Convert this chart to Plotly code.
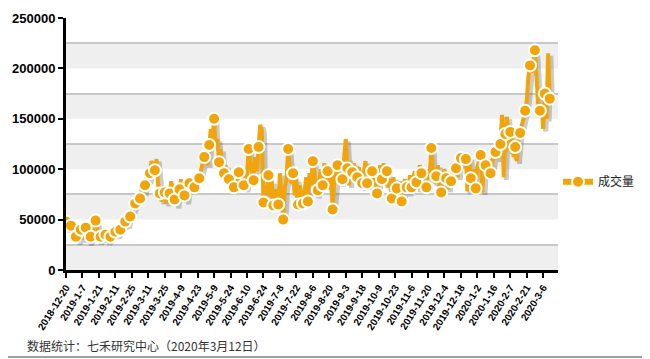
import plotly.graph_objects as go

# Tick labels (every 10 trading days)
tick_labels = ["2018-12-20", "2019-1-7", "2019-1-21", "2019-2-11", "2019-2-25", "2019-3-11",
               "2019-3-25", "2019-4-9", "2019-4-23", "2019-5-9", "2019-5-24", "2019-6-10",
               "2019-6-24", "2019-7-8", "2019-7-22", "2019-8-6", "2019-8-20", "2019-9-3",
               "2019-9-18", "2019-10-9", "2019-10-23", "2019-11-6", "2019-11-20", "2019-12-4",
               "2019-12-18", "2020-1-2", "2020-1-16", "2020-2-7", "2020-2-21", "2020-3-6"]

# Daily volume, in thousands (one value per trading day)
volume_k = [
    48, 40, 46, 44, 36, 30, 33, 28, 35, 40, 30, 44, 42, 36, 27, 33, 38, 45, 49, 42, 28,
    33, 30, 36, 35, 28, 31, 33, 40, 36, 38, 34, 42, 40, 45, 43, 48, 44, 52, 53, 58, 62,
    66, 74, 69, 71, 80, 76, 84, 92, 88, 96, 108, 102, 99, 110, 84, 76, 68, 82, 77, 66, 80,
    76, 88, 72, 70, 64, 78, 80, 90, 72, 74, 68, 84, 86, 78, 92, 82, 88, 94, 91, 100, 106,
    112, 118, 104, 124, 140, 130, 150, 122, 130, 107, 120, 98, 96, 104, 90, 90, 84, 96,
    82, 92, 86, 97, 88, 100, 84, 80, 94, 120, 104, 96, 89, 112, 98, 122, 144, 138,
    67, 84, 76, 94, 72, 88, 64, 80, 70, 65, 96, 74, 50, 82, 90, 120, 100, 86,
    96, 74, 90, 65, 84, 70, 66, 78, 92, 68, 96, 84, 108, 98, 74, 79, 92, 100,
    84, 106, 88, 98, 80, 104, 60, 88, 96, 104, 92, 86, 90, 110, 130, 101, 84, 108,
    97, 106, 88, 92, 102, 82, 86, 96, 108, 86, 104, 80, 98, 88, 94, 76, 90, 104,
    90, 106, 84, 98, 82, 90, 71, 92, 78, 81, 72, 88, 68, 84, 90, 82, 76, 94,
    82, 92, 98, 87, 80, 104, 96, 88, 80, 82, 100, 92, 121, 98, 86, 93, 104, 82,
    77, 90, 100, 91, 80, 96, 88, 106, 96, 101, 92, 116, 111, 104, 114, 110, 78, 112,
    91, 78, 100, 81, 102, 110, 114, 77, 106, 104, 92, 110, 96, 106, 118, 117, 110, 122,
    125, 154, 92, 135, 152, 118, 137, 128, 112, 122, 108, 130, 136, 142, 150, 158, 168, 192,
    203, 196, 210, 218, 190, 162, 158, 165, 140, 175, 150, 215, 170,
]
volume = [v * 1000 for v in volume_k]
idx = list(range(len(volume)))
marker_idx = idx[::3]
marker_vol = [volume[i] for i in marker_idx]

ORANGE = "#F2A50A"
FONT = "Liberation Sans, Arial, sans-serif"

fig = go.Figure()

# drop shadow (derived from the data)
fig.add_trace(go.Scatter(
    x=[i + 1.6 for i in idx], y=[v - 2600 for v in volume], mode="lines",
    line=dict(color="rgba(70,70,70,0.28)", width=5), hoverinfo="skip", showlegend=False))
fig.add_trace(go.Scatter(
    x=idx, y=volume, mode="lines", line=dict(color=ORANGE, width=4),
    showlegend=False, legendgroup="v"))
fig.add_trace(go.Scatter(
    x=marker_idx, y=marker_vol, mode="markers",
    marker=dict(color=ORANGE, size=12, line=dict(color="white", width=2)),
    showlegend=False, legendgroup="v"))
fig.add_trace(go.Scatter(
    x=[None], y=[None], mode="lines+markers", name="成交量", legendgroup="v",
    line=dict(color=ORANGE, width=6),
    marker=dict(color=ORANGE, size=12, line=dict(color="white", width=2))))

# page body has an 8px margin: the figure is laid out relative to (8, 8)
OFF = 8
W, H = 650 - OFF, 359 - OFF
ml, mr, mt, mb = 66 - OFF, 92, 18 - OFF, 89
pw, ph = W - ml - mr, H - mt - mb

# alternating background bands
step = 25000
shapes = []
for k in range(0, 10, 2):
    shapes.append(dict(type="rect", xref="paper", yref="y", x0=0, x1=1,
                       y0=k * step, y1=(k + 1) * step,
                       fillcolor="#EFEFEF", line=dict(width=0), layer="below"))

# outer frame (right and bottom edges fall inside the figure)
fx1 = (648 - OFF - ml) / pw
fy0 = (H - (357 - OFF) - mb) / ph
fx0 = (-ml) / pw
fy1 = (ph + mt) / ph
shapes.append(dict(type="line", xref="paper", yref="paper", x0=fx1, x1=fx1, y0=fy0, y1=fy1,
                   line=dict(color="#808080", width=1.5), layer="below"))
shapes.append(dict(type="line", xref="paper", yref="paper", x0=fx0, x1=fx1, y0=fy0, y1=fy0,
                   line=dict(color="#808080", width=1.5), layer="below"))

fig.update_layout(
    width=W, height=H, margin=dict(l=ml, r=mr, t=mt, b=mb, autoexpand=False),
    paper_bgcolor="white", plot_bgcolor="white",
    shapes=shapes,
    showlegend=True,
    legend=dict(x=1.0, y=0.35, xanchor="left", yanchor="middle",
                font=dict(family="Noto Sans CJK SC, sans-serif", size=12, color="#222"),
                bgcolor="rgba(0,0,0,0)"),
    xaxis=dict(range=[0, 299], tickmode="array",
               tickvals=list(range(0, 10 * len(tick_labels), 10)), ticktext=tick_labels,
               tickangle=-58, showgrid=False, zeroline=False, automargin=False,
               showline=True, linecolor="black", linewidth=3,
               ticks="outside", ticklen=5, tickwidth=2, tickcolor="black",
               tickfont=dict(family=FONT, size=10, color="black", weight="bold")),
    yaxis=dict(range=[0, 250000], tickmode="linear", tick0=0, dtick=50000,
               tickformat="d", showgrid=False, zeroline=False, automargin=False,
               showline=True, linecolor="black", linewidth=3,
               ticks="outside", ticklen=5, tickwidth=2, tickcolor="black",
               tickfont=dict(family=FONT, size=13, color="black", weight="bold"),
               minor=dict(dtick=25000, showgrid=True, gridcolor="#C8C8C8", gridwidth=1.5)),
    annotations=[dict(text="数据统计：七禾研究中心（2020年3月12日）", xref="paper", yref="paper",
                      x=(25 - OFF - ml) / pw, y=(H - (345 - OFF) - mb) / ph,
                      xanchor="left", yanchor="middle", showarrow=False,
                      font=dict(family="Noto Sans CJK SC, sans-serif", size=12, color="#333"))],
)
fig.write_html("out.html")
